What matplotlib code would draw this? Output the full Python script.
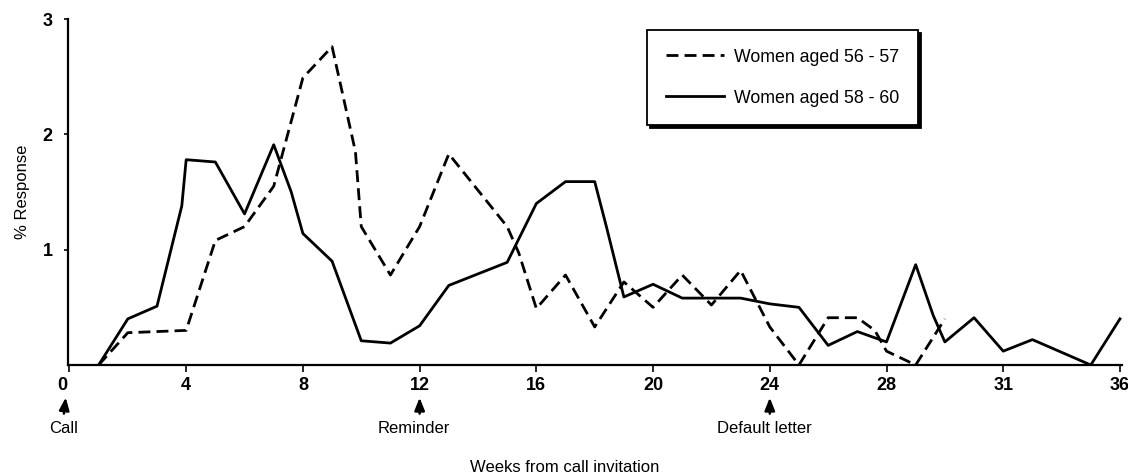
import matplotlib
matplotlib.use("Agg")
import matplotlib.pyplot as plt
from matplotlib.transforms import ScaledTranslation

plt.rcParams['font.family'] = ['Liberation Sans', 'DejaVu Sans']

# --- data ---
weeks_5657 = [1, 2, 4, 5, 6, 7, 8, 9, 9.8, 10, 11, 12, 13, 15, 15.4, 16, 17, 18,
              19, 20, 21, 22, 23, 24, 25, 26, 27, 27.6, 28, 29, 30]
resp_5657 = [0, 0.28, 0.30, 1.08, 1.20, 1.55, 2.49, 2.76, 1.85, 1.20, 0.78, 1.20,
             1.83, 1.20, 0.97, 0.49, 0.78, 0.33, 0.72, 0.50, 0.78, 0.52, 0.82, 0.33,
             0.0, 0.41, 0.41, 0.30, 0.12, 0.0, 0.40]

weeks_5860 = [1, 2, 3, 3.85, 4, 5, 6, 7, 7.6, 8, 9, 10, 11, 12, 13, 15, 16, 17, 18,
              18.4, 19, 20, 21, 22, 23, 24, 25, 26, 27, 28, 29, 29.6, 30, 31, 32,
              33, 35, 36]
resp_5860 = [0, 0.40, 0.51, 1.38, 1.78, 1.76, 1.31, 1.91, 1.50, 1.14, 0.90, 0.21,
             0.19, 0.34, 0.69, 0.89, 1.40, 1.59, 1.59, 1.20, 0.59, 0.70, 0.58, 0.58,
             0.58, 0.53, 0.50, 0.17, 0.29, 0.20, 0.87, 0.43, 0.20, 0.41, 0.12, 0.22,
             0.0, 0.40]

labels = ["Women aged 56 - 57", "Women aged 58 - 60"]

x_ticks = [0, 4, 8, 12, 16, 20, 24, 28, 32, 36]
x_ticklabels = ["0", "4", "8", "12", "16", "20", "24", "28", "31", "36"]
y_ticks = [1, 2, 3]

event_weeks = [0, 12, 24]
event_names = ["Call", "Reminder", "Default letter"]

# --- figure ---
fig = plt.figure(figsize=(11.28, 4.74), dpi=100)
ax = fig.add_axes([68 / 1128, 109 / 474, 1054 / 1128, 346 / 474])

ax.plot(weeks_5657, resp_5657, color='black', lw=2.0, ls=(0, (4.3, 2.2)),
        label=labels[0], dash_capstyle='butt')
ax.plot(weeks_5860, resp_5860, color='black', lw=2.0, label=labels[1])

ax.set_xlim(-0.05, 36.07)
ax.set_ylim(0, 3)

for side in ['top', 'right']:
    ax.spines[side].set_visible(False)
for side in ['left', 'bottom']:
    ax.spines[side].set_linewidth(1.6)

ax.set_xticks(x_ticks)
ax.set_xticklabels(x_ticklabels, fontsize=13, fontweight='bold')
ax.set_yticks(y_ticks)
ax.set_yticklabels([str(v) for v in y_ticks], fontsize=13, fontweight='bold')
ax.tick_params(axis='x', direction='out', length=5, width=1.2, pad=4)
ax.tick_params(axis='y', direction='out', length=3, width=1.2, pad=8)

# the "0" sits a little left of the axis corner in the original
lbl0 = ax.xaxis.get_major_ticks()[0].label1
lbl0.set_transform(lbl0.get_transform() + ScaledTranslation(-5 / 72, 0, fig.dpi_scale_trans))

ax.set_ylabel("% Response", fontsize=12, labelpad=9)

# event arrows under the x axis
trans = ax.get_xaxis_transform()
for wk, name in zip(event_weeks, event_names):
    dx = -4 if wk == 0 else 0
    ax.annotate('', xy=(wk, 0), xycoords=trans,
                xytext=(dx, -35), textcoords='offset points',
                arrowprops=dict(arrowstyle='-|>,head_length=0.75,head_width=0.3',
                                color='black', lw=1.8, shrinkA=0, shrinkB=23.5),
                annotation_clip=False)
    ax.annotate(name, xy=(wk, 0), xycoords=trans,
                xytext=(-4, -45.5), textcoords='offset points',
                ha='center', va='center', fontsize=12, annotation_clip=False)

fig.text(565 / 1128, 1 - 467 / 474, "Weeks from call invitation",
         ha='center', va='center', fontsize=12)

leg = ax.legend(loc='upper left', bbox_to_anchor=(647 / 1128, 1 - 30 / 474),
                bbox_transform=fig.transFigure, fontsize=12.8, frameon=True,
                fancybox=False, edgecolor='black', framealpha=1,
                handlelength=3.3, handletextpad=0.55, borderpad=1.05,
                labelspacing=1.35, borderaxespad=0,
                shadow={'color': 'black', 'alpha': 1})
leg.get_frame().set_linewidth(1.3)

fig.savefig("out.png", dpi=100)
